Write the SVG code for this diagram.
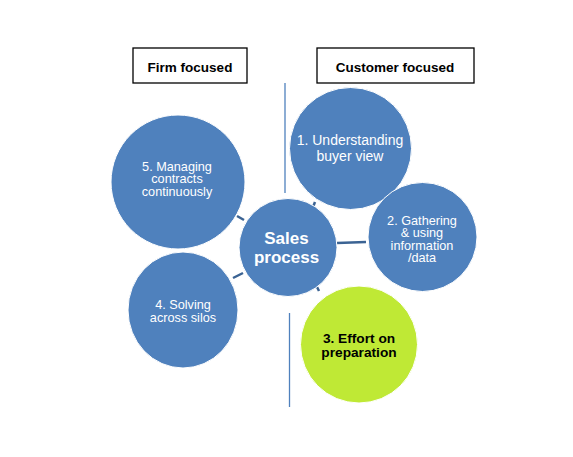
<svg xmlns="http://www.w3.org/2000/svg" width="573" height="457" viewBox="0 0 573 457">
<style>
.bg{fill:#ffffff}
.box{fill:#ffffff;stroke:#000000;stroke-width:1.3}
.hdr{font-family:"Liberation Sans",Arial,sans-serif;font-weight:bold;font-size:13.5px;fill:#000000;text-anchor:middle}
.c{fill:#4F81BD;stroke:#ffffff;stroke-width:1}
.g{fill:#BFE935;stroke:#ffffff;stroke-width:1}
.t{font-family:"Liberation Sans",Arial,sans-serif;font-size:12.7px;fill:#ffffff;text-anchor:middle}
.tb{font-family:"Liberation Sans",Arial,sans-serif;font-weight:bold;font-size:17px;fill:#ffffff;text-anchor:middle}
.tk{font-family:"Liberation Sans",Arial,sans-serif;font-weight:bold;font-size:13.7px;fill:#000000;text-anchor:middle}
.div{stroke:#4F81BD;stroke-width:1.3;fill:none}
.con{stroke:#3B6393;stroke-width:2.5;fill:none}
</style>
<rect class="bg" x="0" y="0" width="573" height="457"/>
<g id="header-firm"><rect class="box" x="133" y="48" width="114" height="35"/><text class="hdr" x="190" y="72">Firm focused</text></g>
<g id="header-customer"><rect class="box" x="317" y="48" width="157" height="35"/><text class="hdr" x="395" y="72">Customer focused</text></g>
<g id="dividers"><line class="div" x1="285" y1="83" x2="285" y2="193"/><line class="div" x1="289.5" y1="313" x2="289.5" y2="407"/></g>
<g id="connectors">
<line class="con" x1="237" y1="216" x2="244" y2="220"/>
<line class="con" x1="315" y1="202" x2="313" y2="207"/>
<line class="con" x1="337" y1="243" x2="366" y2="242"/>
<line class="con" x1="233" y1="278" x2="243" y2="273"/>
<line class="con" x1="317" y1="287" x2="319" y2="291"/>
</g>
<g id="node-5"><circle class="c" cx="178" cy="182" r="67"/><text class="t" x="177" y="170.5">5. Managing</text><text class="t" x="177" y="183.2">contracts</text><text class="t" x="177" y="195.9">continuously</text></g>
<g id="node-1"><circle class="c" cx="350.5" cy="148.5" r="61"/><text class="t" style="font-size:14px" x="350" y="145">1. Understanding</text><text class="t" style="font-size:14px" x="350" y="161">buyer view</text></g>
<g id="node-2"><circle class="c" cx="422.5" cy="237" r="54.5"/><text class="t" x="422" y="224.5">2. Gathering</text><text class="t" x="422" y="237">&amp; using</text><text class="t" x="422" y="249.5">information</text><text class="t" x="422" y="262">/data</text></g>
<g id="node-sales"><circle class="c" cx="288" cy="247.5" r="49"/><text class="tb" x="286.5" y="243.5">Sales</text><text class="tb" x="286.5" y="262.5">process</text></g>
<g id="node-4"><ellipse class="c" cx="183" cy="310" rx="55" ry="58"/><text class="t" x="183" y="309">4. Solving</text><text class="t" x="183" y="322">across silos</text></g>
<g id="node-3"><circle class="g" cx="359" cy="344.5" r="58.5"/><text class="tk" x="359" y="342.5">3. Effort on</text><text class="tk" x="359" y="357">preparation</text></g>
</svg>
